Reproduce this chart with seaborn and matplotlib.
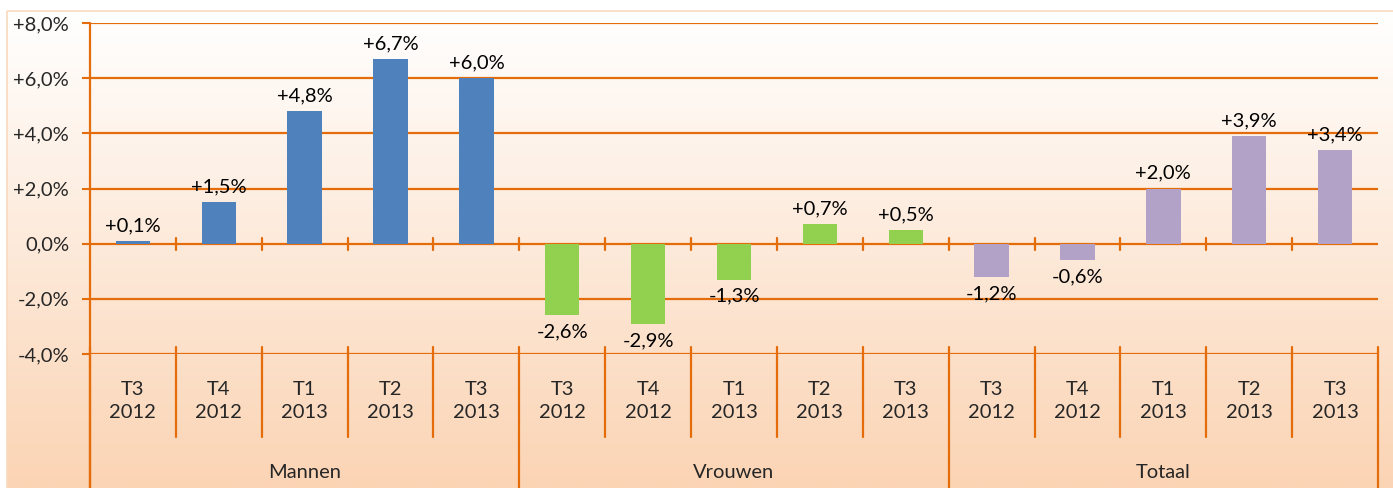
import numpy as np
import pandas as pd
import matplotlib
matplotlib.use("Agg")
import matplotlib.pyplot as plt
import matplotlib.transforms as mtransforms
from matplotlib.lines import Line2D
from matplotlib.patches import Rectangle
import seaborn as sns

# Data
groups = ["Mannen", "Vrouwen", "Totaal"]
quarters = ["T3\n2012", "T4\n2012", "T1\n2013", "T2\n2013", "T3\n2013"]
mannen = [0.1, 1.5, 4.8, 6.7, 6.0]
vrouwen = [-2.6, -2.9, -1.3, 0.7, 0.5]
totaal = [-1.2, -0.6, 2.0, 3.9, 3.4]
y_ticks = [-4, -2, 0, 2, 4, 6, 8]

colors = {"Mannen": "#4F81BD", "Vrouwen": "#92D050", "Totaal": "#B3A2C7"}
orange = "#E46C0A"

rows = []
for g, vals in zip(groups, [mannen, vrouwen, totaal]):
    for q, v in zip(quarters, vals):
        rows.append({"group": g, "quarter": q, "value": v})
df = pd.DataFrame(rows)
df["slot"] = [f"{i}" for i in range(len(df))]

sns.set_style("white")
plt.rcParams["font.family"] = ["Lato", "DejaVu Sans"]
fs = 14.5

W, H = 1393, 488
fig = plt.figure(figsize=(W / 100, H / 100), dpi=100)

# gradient background with a light frame
bg = fig.add_axes([0, 0, 1, 1])
bg.set_axis_off()
grad = np.linspace(0, 1, 256).reshape(-1, 1)
top_c = np.array([1.0, 1.0, 1.0])
bot_c = np.array([251, 212, 180]) / 255
img = top_c + (bot_c - top_c) * grad[..., None]
bg.imshow(img, extent=[7, W + 10, H, 11], aspect="auto", origin="upper")
bg.add_patch(Rectangle((7, 11), W + 20, H, fill=False, edgecolor="#FAD9BE", lw=1.2))
bg.set_xlim(0, W)
bg.set_ylim(H, 0)

left, right, top, bottom = 90, 1378, 23, 354
ax = fig.add_axes([left / W, (H - bottom) / H, (right - left) / W, (bottom - top) / H])
ax.patch.set_alpha(0)

sns.barplot(data=df, x="slot", y="value", hue="group", palette=colors,
            dodge=False, width=0.4, legend=False, ax=ax, saturation=1,
            linewidth=0, edgecolor="none")

ax.set_ylim(-4, 8)
ax.set_xlim(-0.5, len(df) - 0.5)
ax.set_yticks(y_ticks)
ax.set_yticklabels([("+" if t > 0 else "") + f"{t:.1f}".replace(".", ",") + "%" for t in y_ticks],
                   fontsize=fs)
ax.tick_params(axis="y", length=6, color=orange, width=1.5, pad=9, direction="out", left=True)
ax.set_xticks([])
ax.set_xlabel("")
ax.set_ylabel("")
for s in ax.spines.values():
    s.set_visible(False)
for t in y_ticks:
    ax.axhline(t, color=orange, lw=1.6, zorder=0.5)

# value labels
for i, v in enumerate(df["value"]):
    txt = ("+" if v > 0 else "") + f"{v:.1f}".replace(".", ",") + "%"
    ax.annotate(txt, (i, v), xytext=(0, 5 if v > 0 else -6), textcoords="offset points",
                ha="center", va="bottom" if v > 0 else "top", fontsize=fs, color="#000000")

# category axis drawn under the plot
tr = mtransforms.blended_transform_factory(ax.transData, ax.transAxes)
px = 1 / (bottom - top)
for k in range(len(df) + 1):
    xb = k - 0.5
    if k % 5 == 0:
        ax.add_line(Line2D([xb, xb], [7 * px, -(H - bottom) * px - 0.01], transform=tr,
                           color=orange, lw=1.6, clip_on=False))
    else:
        ax.add_line(Line2D([xb, xb], [7 * px, -(437 - bottom) * px], transform=tr,
                           color=orange, lw=1.6, clip_on=False))
    if 0 < k < len(df):
        ax.plot([xb, xb], [-0.22, 0.22], color=orange, lw=1.6, clip_on=False)
# left spine running down to the bottom
ax.add_line(Line2D([-0.5, -0.5], [1, -(H - bottom) * px - 0.01], transform=tr,
                   color=orange, lw=1.6, clip_on=False))

for i, q in enumerate(df["quarter"]):
    ax.text(i, -(401 - bottom) * px, q, transform=tr, ha="center", va="center",
            fontsize=fs, linespacing=1.45)
for j, g in enumerate(groups):
    ax.text(j * 5 + 2, -(472 - bottom) * px, g, transform=tr, ha="center", va="center",
            fontsize=fs)

fig.savefig("out.png", dpi=100)
